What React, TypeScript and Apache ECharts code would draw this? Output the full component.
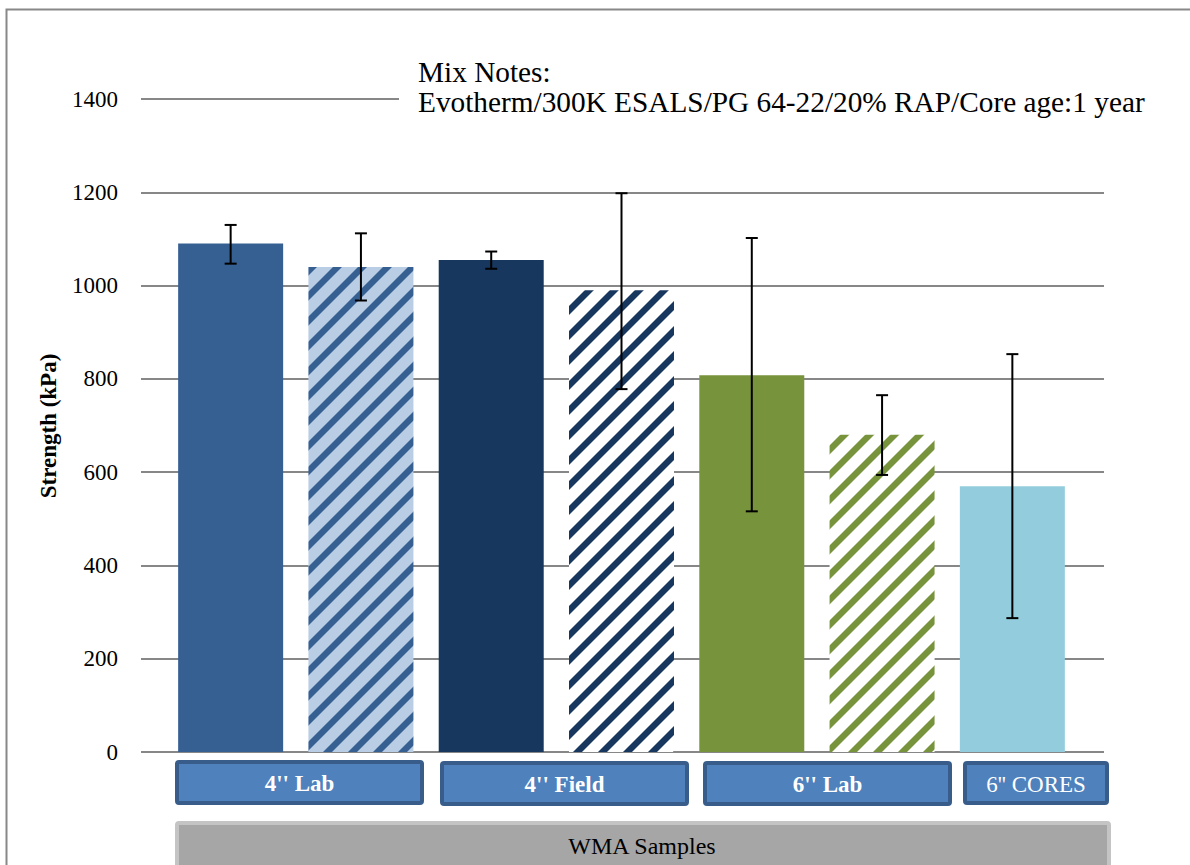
import React, { useEffect, useRef } from "react";
import * as echarts from "echarts";

const categories = ["4'' Lab A", "4'' Lab B", "4'' Field A", "4'' Field B", "6'' Lab A", "6'' Lab B", "6'' CORES"];
const strengthValues = [1090, 1040, 1055, 990, 808, 680, 570];
const errorLow = [1047, 968, 1036, 778, 516, 594, 287];
const errorHigh = [1130, 1112, 1073, 1198, 1102, 765, 853];
const yTicks = [0, 200, 400, 600, 800, 1000, 1200, 1400];
const groupLabels = ["4'' Lab", "4'' Field", "6'' Lab", "6'' CORES"];
const noteLines = ["Mix Notes:", "Evotherm/300K ESALS/PG 64-22/20% RAP/Core age:1 year"];

function hexToRgb(h: string) {
  const n = parseInt(h.slice(1), 16);
  return [(n >> 16) & 255, (n >> 8) & 255, n & 255];
}

function stripe(bg: string, fg: string) {
  const s = 25;
  const band = 9;
  const c = document.createElement("canvas");
  c.width = s;
  c.height = s;
  const ctx = c.getContext("2d")!;
  const img = ctx.createImageData(s, s);
  const b = hexToRgb(bg);
  const f = hexToRgb(fg);
  for (let y = 0; y < s; y++) {
    for (let x = 0; x < s; x++) {
      const d = (x + y + 1) % s;
      let t = 0;
      if (d >= 1 && d <= band - 1) t = 1;
      else if (d === 0 || d === band) t = 0.5;
      const i = (y * s + x) * 4;
      for (let k = 0; k < 3; k++) img.data[i + k] = Math.round(b[k] * (1 - t) + f[k] * t);
      img.data[i + 3] = 255;
    }
  }
  ctx.putImageData(img, 0, 0);
  return { image: c, repeat: "repeat" } as any;
}

export default function App() {
  const ref = useRef<HTMLDivElement>(null);
  useEffect(() => {
    const chart = echarts.init(ref.current!, undefined, { renderer: "svg" });
    const fills: any[] = [
      "#366092",
      stripe("#B9CDE5", "#366092"),
      "#17375E",
      stripe("#FFFFFF", "#17375E"),
      "#77933C",
      stripe("#FFFFFF", "#77933C"),
      "#93CDDD",
    ];
    const font = "'Liberation Serif', 'Times New Roman', serif";
    const boxes = [
      { x: 175, y: 760, w: 249, h: 45 },
      { x: 440, y: 761, w: 249, h: 45 },
      { x: 703, y: 761, w: 249, h: 45 },
      { x: 963, y: 761, w: 146, h: 44 },
    ];
    const graphics: any[] = [
      {
        type: "rect",
        shape: { x: 6.5, y: 9.5, width: 1300, height: 1000 },
        style: { fill: "none", stroke: "#888888", lineWidth: 2 },
        z: 100,
      },
      {
        type: "rect",
        shape: { x: 399, y: 86, width: 770, height: 28 },
        style: { fill: "#FFFFFF" },
        z: 100,
      },
      {
        type: "text",
        x: 418,
        y: 72,
        style: { text: noteLines[0], font: `29.3px ${font}`, fill: "#000", textVerticalAlign: "middle" },
        z: 101,
      },
      {
        type: "text",
        x: 418,
        y: 102,
        style: { text: noteLines[1], font: `29.3px ${font}`, fill: "#000", textVerticalAlign: "middle" },
        z: 101,
      },
      {
        type: "text",
        x: 48,
        y: 426,
        rotation: Math.PI / 2,
        style: {
          text: "Strength (kPa)",
          font: `bold 23px ${font}`,
          fill: "#000",
          textAlign: "center",
          textVerticalAlign: "middle",
        },
        z: 101,
      },
      {
        type: "rect",
        shape: { x: 177, y: 823, width: 932, height: 60, r: 2 },
        style: { fill: "#A6A6A6", stroke: "#C4C4C4", lineWidth: 4 },
        z: 100,
      },
      {
        type: "text",
        x: 642,
        y: 846,
        style: {
          text: "WMA Samples",
          font: `24px ${font}`,
          fill: "#000",
          textAlign: "center",
          textVerticalAlign: "middle",
        },
        z: 101,
      },
    ];
    boxes.forEach((b, i) => {
      graphics.push({
        type: "rect",
        shape: { x: b.x + 2, y: b.y + 2, width: b.w - 4, height: b.h - 4, r: 2 },
        style: { fill: "#4F81BD", stroke: "#385D8A", lineWidth: 4 },
        z: 100,
      });
      graphics.push({
        type: "text",
        x: b.x + b.w / 2,
        y: b.y + b.h / 2 + 1,
        style: {
          text: groupLabels[i],
          font: `${i === 3 ? "" : "bold "}23px ${font}`,
          fill: "#FFFFFF",
          textAlign: "center",
          textVerticalAlign: "middle",
        },
        z: 101,
      });
    });

    chart.setOption({
      animation: false,
      backgroundColor: "#FFFFFF",
      grid: [
        { left: 141, right: 86, top: 99, bottom: 113 },
        { left: 165.5, width: 912, top: 99, bottom: 113 },
      ],
      xAxis: [
        { gridIndex: 0, type: "value", show: false, min: 0, max: 1 },
        {
          gridIndex: 1,
          type: "category",
          data: categories,
          show: false,
        },
      ],
      yAxis: [
        {
          gridIndex: 0,
          type: "value",
          min: 0,
          max: 1400,
          interval: 200,
          axisLine: { show: false },
          axisTick: { show: false },
          axisLabel: {
            margin: 23,
            fontFamily: font,
            fontSize: 23,
            color: "#000",
            formatter: (v: number) => (yTicks.includes(v) ? String(v) : ""),
          },
          splitLine: { lineStyle: { color: "#878787", width: 2 } },
        },
        { gridIndex: 1, type: "value", min: 0, max: 1400, show: false, splitLine: { show: false } },
      ],
      series: [
        {
          type: "bar",
          xAxisIndex: 1,
          yAxisIndex: 1,
          barWidth: 105,
          data: strengthValues.map((v, i) => ({ value: v, itemStyle: { color: fills[i] } })),
        },
        {
          type: "custom",
          xAxisIndex: 1,
          yAxisIndex: 1,
          z: 5,
          data: categories.map((_, i) => [i, errorLow[i], errorHigh[i]]),
          renderItem: (params: any, api: any) => {
            const x = api.value(0);
            const lo = api.coord([x, api.value(1)]);
            const hi = api.coord([x, api.value(2)]);
            const hw = 6;
            const st = { stroke: "#000", lineWidth: 2 };
            return {
              type: "group",
              children: [
                { type: "line", shape: { x1: lo[0], y1: lo[1], x2: hi[0], y2: hi[1] }, style: st },
                { type: "line", shape: { x1: lo[0] - hw, y1: lo[1], x2: lo[0] + hw, y2: lo[1] }, style: st },
                { type: "line", shape: { x1: hi[0] - hw, y1: hi[1], x2: hi[0] + hw, y2: hi[1] }, style: st },
              ],
            };
          },
        },
      ],
      graphic: graphics,
    });
    return () => chart.dispose();
  }, []);
  return (
    <div
      ref={ref}
      style={{ position: "fixed", left: 0, top: 0, width: 1190, height: 865 }}
    />
  );
}
